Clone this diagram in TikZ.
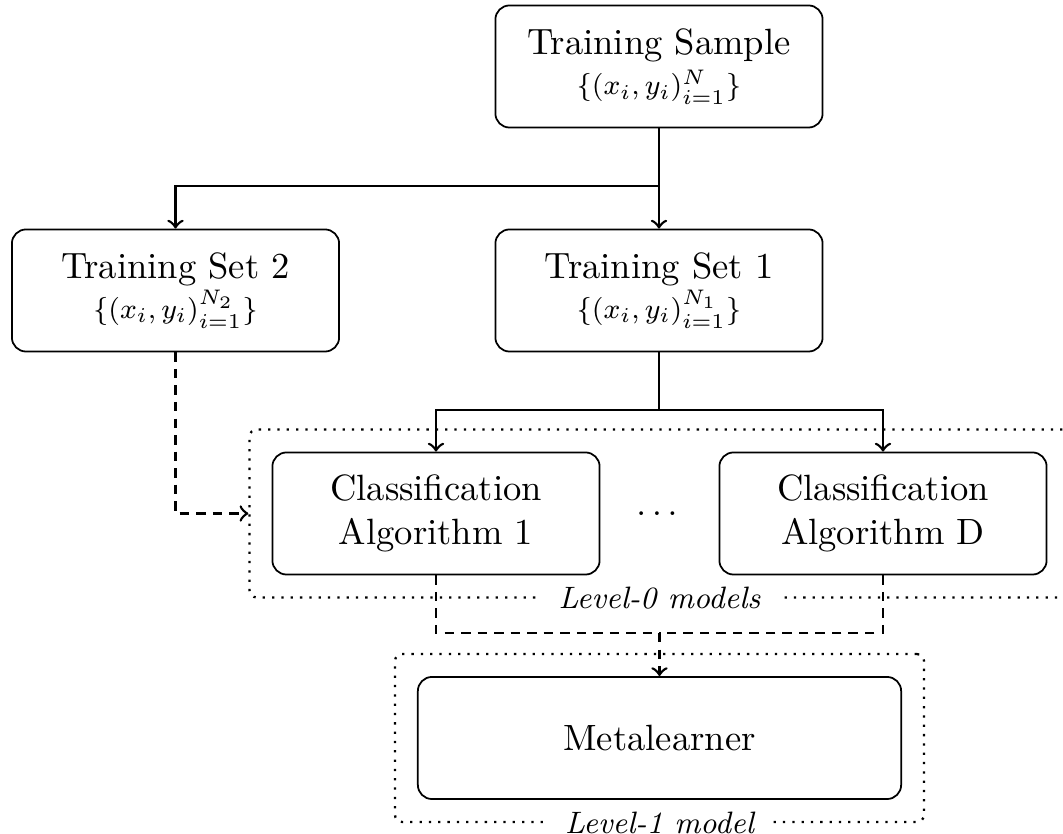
\documentclass[tikz,border=0pt]{standalone}
\usetikzlibrary{fit,calc}
\newcommand{\mathline}[1]{{\fontsize{8.4}{10}\selectfont$#1$}}
\begin{document}
\begin{tikzpicture}[x=0.01cm,y=-0.01cm,
  box/.style={draw, rounded corners=4pt, line width=0.5pt, align=center,
    minimum width=3.27cm, minimum height=1.22cm, inner sep=0pt,
    font=\fontsize{10.4}{12.5}\selectfont},
  conn/.style={->, line width=0.75pt},
  plainconn/.style={line width=0.75pt},
  dashpat/.style={dash pattern=on 2.7pt off 2pt},
  dconn/.style={->, dashpat, line width=0.75pt},
  dplain/.style={dashpat, line width=0.75pt},
  group/.style={draw, dotted, line width=0.65pt, rounded corners=2pt, inner sep=0.22cm},
  grouplabel/.style={fill=white, inner xsep=5pt, inner ysep=1pt,
    font=\fontsize{8.8}{10}\selectfont\itshape}
]
\useasboundingbox (0,0) rectangle (1063,834);

\node[box] (ts) at (659,66.5) {Training Sample\\[-1pt] \mathline{\{(x_i,y_i)_{i=1}^{N}\}}};
\node[box] (ts2) at (175.5,290.5) {Training Set 2\\[-1pt] \mathline{\{(x_i,y_i)_{i=1}^{N_2}\}}};
\node[box] (ts1) at (659,290.5) {Training Set 1\\[-1pt] \mathline{\{(x_i,y_i)_{i=1}^{N_1}\}}};
\node[box] (alg1) at (436,513.5) {Classification\\ Algorithm 1};
\node[box] (algD) at (883,513.5) {Classification\\ Algorithm D};
\node[font=\fontsize{10.4}{12.5}\selectfont, inner sep=0pt] (dots) at (657,514) {$\ldots$};
\node[box, minimum width=4.83cm] (meta) at (659.5,738) {Metalearner};

\node[group, fit=(alg1)(algD)] (l0) {};
\node[group, fit=(meta)] (l1) {};

\coordinate (s1) at (659,186);
\coordinate (s2) at (659,410);
\coordinate (m) at (659.5,633);

\draw[conn] (ts.south) -- (ts1.north);
\draw[conn] (s1) -| (ts2.north);
\draw[plainconn] (ts1.south) -- (s2);
\draw[conn] (s2) -| (alg1.north);
\draw[conn] (s2) -| (algD.north);
\draw[dconn] (ts2.south) |- (l0.west);
\draw[dplain] (alg1.south) |- (m);
\draw[dplain] (algD.south) |- (m);
\draw[dconn] (m) -- (meta.north);

\node[grouplabel] (l0lab) at (l0.south) {Level-0 models};
\node[grouplabel] (l1lab) at (l1.south) {Level-1 model};
\end{tikzpicture}
\end{document}
